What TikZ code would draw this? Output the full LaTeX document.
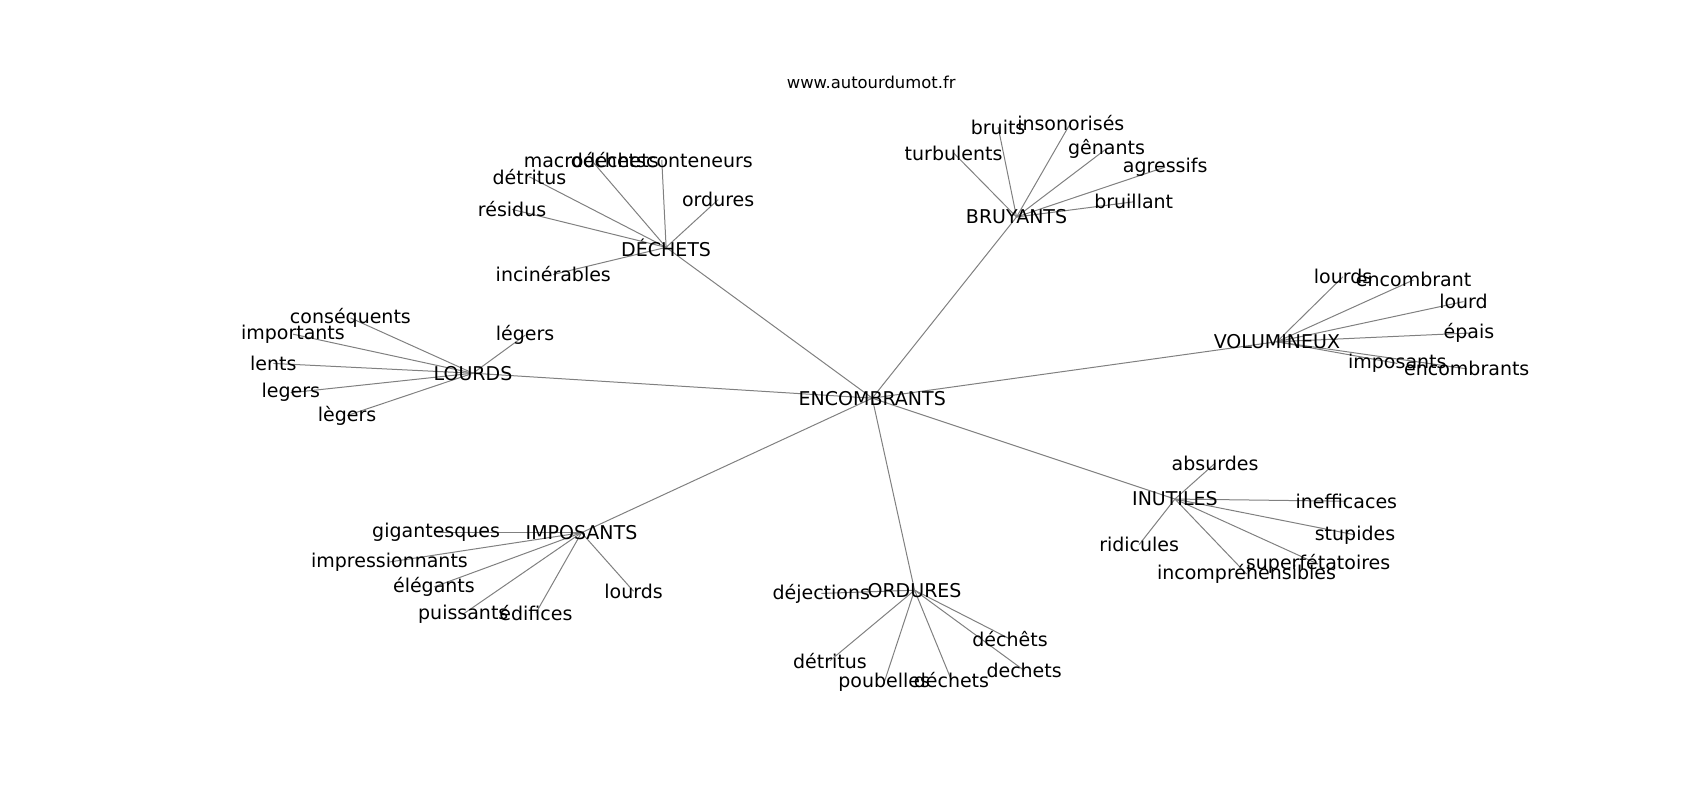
\documentclass[tikz,border=0pt]{standalone}
\usepackage{fontspec}
\setmainfont{DejaVu Sans}
\usetikzlibrary{backgrounds}
\begin{document}
\begin{tikzpicture}[x=0.5425pt,y=-0.5425pt,inner sep=0pt,outer sep=0pt,
word/.style={font=\fontsize{9.5pt}{11pt}\selectfont,text=black},
edge/.style={draw=black!50,line width=0.5pt}]
\useasboundingbox (0,0) rectangle (1567,737);

\draw (803,76) node[font=\fontsize{8.2pt}{10pt}\selectfont] (site) {www.autourdumot.fr};

\draw (804,367) node[word] (enc) {ENCOMBRANTS};
\draw (614,228) node[word] (dech) {DÉCHETS};
\draw (937,200) node[word] (bruy) {BRUYANTS};
\draw (1177,315) node[word] (volu) {VOLUMINEUX};
\draw (436,344) node[word] (lour) {LOURDS};
\draw (536,491) node[word] (impo) {IMPOSANTS};
\draw (843,544) node[word] (ordu) {ORDURES};
\draw (1083,460) node[word] (inut) {INUTILES};

% DÉCHETS
\draw (545,147.5) node[word] (dech1) {macrodéchets};
\draw (610,147.5) node[word] (dech2) {déchetsconteneurs};
\draw (488,163) node[word] (dech3) {détritus};
\draw (472,193) node[word] (dech4) {résidus};
\draw (662,184) node[word] (dech5) {ordures};
\draw (510,253) node[word] (dech6) {incinérables};

% BRUYANTS
\draw (879,141) node[word] (bruy1) {turbulents};
\draw (920,117) node[word] (bruy2) {bruits};
\draw (987,113) node[word] (bruy3) {insonorisés};
\draw (1020,137) node[word] (bruy4) {gênants};
\draw (1074,154) node[word] (bruy5) {agressifs};
\draw (1045,186) node[word] (bruy6) {bruillant};

% VOLUMINEUX
\draw (1238,255) node[word] (volu1) {lourds};
\draw (1303,258) node[word] (volu2) {encombrant};
\draw (1349,278) node[word] (volu3) {lourd};
\draw (1354,307) node[word] (volu4) {épais};
\draw (1288,335) node[word] (volu5) {imposants};
\draw (1352,340) node[word] (volu6) {encombrants};

% LOURDS
\draw (323,293) node[word] (lour1) {conséquents};
\draw (270,308) node[word] (lour2) {importants};
\draw (252,335) node[word] (lour3) {lents};
\draw (268,362) node[word] (lour4) {legers};
\draw (320,383) node[word] (lour5) {lègers};
\draw (484,309) node[word] (lour6) {légers};

% IMPOSANTS
\draw (402,491) node[word] (impo1) {gigantesques};
\draw (359,518) node[word] (impo2) {impressionnants};
\draw (400,541) node[word] (impo3) {élégants};
\draw (427,566) node[word] (impo4) {puissants};
\draw (494,565) node[word] (impo5) {édifices};
\draw (584,545) node[word] (impo6) {lourds};

% ORDURES
\draw (757,547) node[word] (ordu1) {déjections};
\draw (765,609) node[word] (ordu2) {détritus};
\draw (815,629) node[word] (ordu3) {poubelles};
\draw (877,627) node[word] (ordu4) {déchets};
\draw (931,589) node[word] (ordu5) {déchêts};
\draw (944,618) node[word] (ordu6) {dechets};

% INUTILES
\draw (1120,427) node[word] (inut1) {absurdes};
\draw (1241,462) node[word] (inut2) {inefficaces};
\draw (1249,493) node[word] (inut3) {stupides};
\draw (1050,502) node[word] (inut4) {ridicules};
\draw (1149,529) node[word] (inut5) {incompréhensibles};
\draw (1215,520) node[word] (inut6) {superfétatoires};

\begin{pgfonlayer}{background}
\draw[edge] (enc.center) -- (dech.center);
\draw[edge] (enc.center) -- (bruy.center);
\draw[edge] (enc.center) -- (volu.center);
\draw[edge] (enc.center) -- (lour.center);
\draw[edge] (enc.center) -- (impo.center);
\draw[edge] (enc.center) -- (ordu.center);
\draw[edge] (enc.center) -- (inut.center);

\draw[edge] (dech.center) -- (dech1.center);
\draw[edge] (dech.center) -- (dech2.center);
\draw[edge] (dech.center) -- (dech3.center);
\draw[edge] (dech.center) -- (dech4.center);
\draw[edge] (dech.center) -- (dech5.center);
\draw[edge] (dech.center) -- (dech6.center);

\draw[edge] (bruy.center) -- (bruy1.center);
\draw[edge] (bruy.center) -- (bruy2.center);
\draw[edge] (bruy.center) -- (bruy3.center);
\draw[edge] (bruy.center) -- (bruy4.center);
\draw[edge] (bruy.center) -- (bruy5.center);
\draw[edge] (bruy.center) -- (bruy6.center);

\draw[edge] (volu.center) -- (volu1.center);
\draw[edge] (volu.center) -- (volu2.center);
\draw[edge] (volu.center) -- (volu3.center);
\draw[edge] (volu.center) -- (volu4.center);
\draw[edge] (volu.center) -- (volu5.center);
\draw[edge] (volu.center) -- (volu6.center);

\draw[edge] (lour.center) -- (lour1.center);
\draw[edge] (lour.center) -- (lour2.center);
\draw[edge] (lour.center) -- (lour3.center);
\draw[edge] (lour.center) -- (lour4.center);
\draw[edge] (lour.center) -- (lour5.center);
\draw[edge] (lour.center) -- (lour6.center);

\draw[edge] (impo.center) -- (impo1.center);
\draw[edge] (impo.center) -- (impo2.center);
\draw[edge] (impo.center) -- (impo3.center);
\draw[edge] (impo.center) -- (impo4.center);
\draw[edge] (impo.center) -- (impo5.center);
\draw[edge] (impo.center) -- (impo6.center);

\draw[edge] (ordu.center) -- (ordu1.center);
\draw[edge] (ordu.center) -- (ordu2.center);
\draw[edge] (ordu.center) -- (ordu3.center);
\draw[edge] (ordu.center) -- (ordu4.center);
\draw[edge] (ordu.center) -- (ordu5.center);
\draw[edge] (ordu.center) -- (ordu6.center);

\draw[edge] (inut.center) -- (inut1.center);
\draw[edge] (inut.center) -- (inut2.center);
\draw[edge] (inut.center) -- (inut3.center);
\draw[edge] (inut.center) -- (inut4.center);
\draw[edge] (inut.center) -- (inut5.center);
\draw[edge] (inut.center) -- (inut6.center);
\end{pgfonlayer}
\end{tikzpicture}
\end{document}
